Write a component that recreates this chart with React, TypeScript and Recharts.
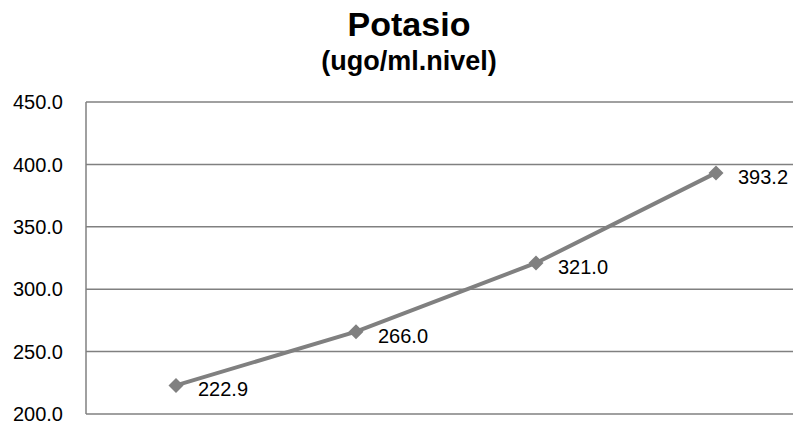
import React from 'react';
import { LineChart, Line, XAxis, YAxis, CartesianGrid, LabelList } from 'recharts';

const categories = ['1', '2', '3', '4'];
const potasio = [222.9, 266.0, 321.0, 393.2];
const yTicks = [200, 250, 300, 350, 400, 450];

const chartData = categories.map((name, i) => ({ name, value: potasio[i] }));

const FONT = '"Liberation Sans", Arial, sans-serif';
const GRAY = '#808080';

const Diamond = (props: any) => {
  const { cx, cy } = props;
  if (cx == null || cy == null) return null;
  const r = 7.5;
  return (
    <polygon
      points={`${cx},${cy - r} ${cx + r},${cy} ${cx},${cy + r} ${cx - r},${cy}`}
      fill={GRAY}
      stroke="none"
    />
  );
};

const ValueLabel = (props: any) => {
  const { x, y, value } = props;
  return (
    <text
      x={x + 22}
      y={y + 4}
      fontFamily={FONT}
      fontSize={20}
      fill="#000"
      textAnchor="start"
      dominantBaseline="central"
    >
      {(value as number).toFixed(1)}
    </text>
  );
};

export default function App() {
  return (
    <div
      style={{
        position: 'absolute',
        left: 0,
        top: 0,
        width: 793,
        height: 425,
        overflow: 'hidden',
        background: '#fff',
        fontFamily: FONT,
      }}
    >
      <div
        style={{
          position: 'absolute',
          left: 0,
          width: 818,
          top: 7,
          textAlign: 'center',
          fontWeight: 'bold',
          lineHeight: 1,
        }}
      >
        <div style={{ fontSize: 34 }}>Potasio</div>
        <div style={{ fontSize: 27, marginTop: 7 }}>(ugo/ml.nivel)</div>
      </div>
      <LineChart
        width={830}
        height={425}
        data={chartData}
        margin={{ top: 102, right: 24, left: 0, bottom: 11 }}
      >
        <CartesianGrid vertical={false} stroke={GRAY} strokeWidth={1.5} />
        <XAxis dataKey="name" hide padding={{ left: 90, right: 90 }} />
        <YAxis
          width={86}
          domain={[200, 450]}
          ticks={yTicks}
          interval={0}
          tickFormatter={(v: number) => v.toFixed(1)}
          axisLine={{ stroke: GRAY, strokeWidth: 1.5 }}
          tickLine={false}
          tickMargin={17}
          tick={{ fill: '#000', fontSize: 20, fontFamily: FONT }}
        />
        <Line
          type="linear"
          dataKey="value"
          stroke={GRAY}
          strokeWidth={4}
          dot={<Diamond />}
          activeDot={false}
          isAnimationActive={false}
        >
          <LabelList dataKey="value" content={<ValueLabel />} />
        </Line>
      </LineChart>
    </div>
  );
}
